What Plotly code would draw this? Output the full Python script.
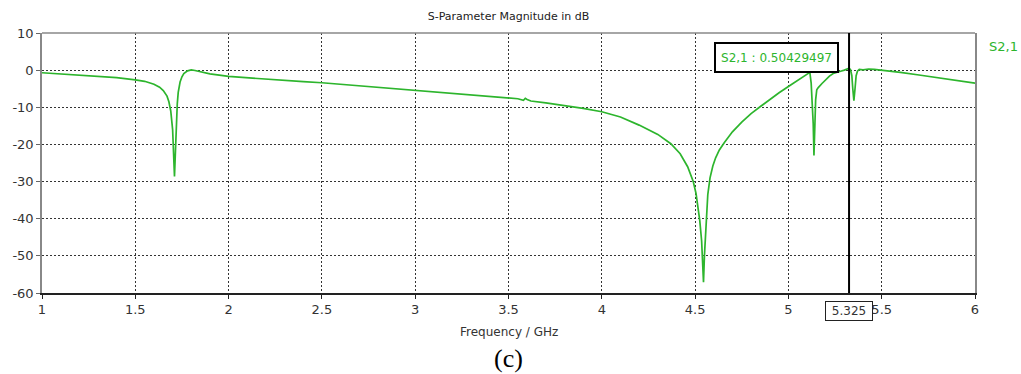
import plotly.graph_objects as go

# ---- data ----
freq_ghz = [
    1.00, 1.10, 1.20, 1.30, 1.40, 1.50, 1.55, 1.60, 1.63, 1.65, 1.67, 1.68, 1.69,
    1.70, 1.705, 1.710, 1.715, 1.720, 1.725, 1.73, 1.74, 1.75, 1.76, 1.78, 1.80,
    1.82, 1.85, 1.90, 2.00, 2.10, 2.20, 2.30, 2.40, 2.50, 2.60, 2.70, 2.80, 2.90,
    3.00, 3.10, 3.20, 3.30, 3.40, 3.50, 3.55, 3.58, 3.59, 3.60, 3.62, 3.70, 3.80,
    3.90, 4.00, 4.10, 4.20, 4.30, 4.37, 4.42, 4.46, 4.49, 4.505, 4.515, 4.525,
    4.535, 4.542, 4.545, 4.550, 4.556, 4.562, 4.568, 4.58, 4.595, 4.61, 4.63, 4.657,
    4.70, 4.75, 4.80, 4.85, 4.90, 4.95, 5.00, 5.05, 5.08, 5.10, 5.115, 5.122,
    5.128, 5.133, 5.137, 5.141, 5.146, 5.152, 5.16, 5.18, 5.20, 5.22, 5.24, 5.26,
    5.28, 5.30, 5.315, 5.325, 5.333, 5.34, 5.345, 5.351, 5.357, 5.363, 5.37, 5.38,
    5.40, 5.43, 5.46, 5.50, 5.60, 5.70, 5.80, 5.90, 6.00,
]
s21_db = [
    -0.7, -1.0, -1.3, -1.6, -2.0, -2.6, -3.0, -3.8, -4.6, -5.5, -7.0, -8.5, -11.0,
    -16.0, -21.0, -28.6, -22.0, -14.0, -9.0, -6.0, -3.2, -1.8, -0.9, -0.2, 0.05,
    -0.1, -0.5, -1.0, -1.7, -2.1, -2.5, -2.8, -3.1, -3.4, -3.8, -4.2, -4.6, -5.0,
    -5.4, -5.8, -6.2, -6.6, -7.0, -7.3, -7.7, -8.1, -7.6, -7.9, -8.3, -8.8, -9.5,
    -10.3, -11.2, -12.6, -14.8, -17.3, -19.8, -22.5, -26.0, -30.0, -33.2, -36.5, -40.5,
    -46.0, -52.0, -57.1, -50.0, -43.0, -37.5, -33.5, -29.0, -25.8, -23.6, -21.5, -19.5,
    -16.6, -14.0, -11.7, -9.8, -7.9, -6.1, -4.4, -2.8, -1.8, -1.0, -0.6, -3.5,
    -8.0, -14.5, -23.0, -14.0, -8.0, -5.3, -4.7, -3.6, -2.6, -1.6, -0.9, -0.5,
    -0.3, 0.0, 0.3, 0.504, 0.1, -1.5, -5.0, -8.2, -5.0, -1.5, -0.3, 0.2,
    0.1, 0.3, 0.2, 0.0, -0.6, -1.3, -2.0, -2.8, -3.5,
]
marker_freq = 5.325
marker_value = 0.50429497
series_name = "S2,1"
x_ticks = [1, 1.5, 2, 2.5, 3, 3.5, 4, 4.5, 5, 5.5, 6]
x_tick_labels = ["1", "1.5", "2", "2.5", "3", "3.5", "4", "4.5", "5", "5.5", "6"]
y_ticks = [10, 0, -10, -20, -30, -40, -50, -60]
y_tick_labels = ["10", "0", "-10", "-20", "-30", "-40", "-50", "-60"]

GREEN = "#2db52d"
FONT = "DejaVu Sans"

fig = go.Figure()
fig.add_trace(go.Scatter(x=freq_ghz, y=s21_db, mode="lines", name=series_name,
                         line=dict(color=GREEN, width=1.7), showlegend=False))

fig.update_layout(
    width=1021, height=374, autosize=False,
    margin=dict(l=38, r=46, t=33, b=80.5),
    paper_bgcolor="white", plot_bgcolor="white",
    title=dict(text="S-Parameter Magnitude in dB", x=0.5, xref="paper",
               y=1 - 16 / 374, yanchor="middle",
               font=dict(family=FONT, size=11, color="#222")),
    xaxis=dict(range=[1, 6], tickvals=x_ticks, ticktext=x_tick_labels,
               showline=True, linecolor="#222", linewidth=1.5, mirror=False,
               ticks="outside", ticklen=4, tickcolor="#222",
               showgrid=True, gridcolor="#333", gridwidth=1, griddash="2px,2px",
               zeroline=False, tickfont=dict(family=FONT, size=13, color="#333")),
    yaxis=dict(range=[-60, 10], tickvals=y_ticks, ticktext=y_tick_labels,
               showline=True, linecolor="#888", linewidth=1.5, mirror=True,
               ticks="outside", ticklen=4, tickcolor="#666",
               showgrid=True, gridcolor="#333", gridwidth=1, griddash="2px,2px",
               zeroline=False, tickfont=dict(family=FONT, size=13, color="#333")),
)

# top frame line
fig.add_shape(type="line", xref="paper", yref="paper", x0=0, x1=1, y0=1, y1=1,
              line=dict(color="#888", width=1.5))
# marker line
fig.add_shape(type="line", xref="x", yref="paper", x0=marker_freq, x1=marker_freq,
              y0=0, y1=1, line=dict(color="black", width=2))

# marker value box
fig.add_annotation(x=4.935, y=3.3, xref="x", yref="y", yanchor="middle",
                   text=f"{series_name} : {marker_value:.8f}", showarrow=False,
                   width=121, height=27, borderpad=0,
                   bordercolor="black", borderwidth=2, bgcolor="white",
                   font=dict(family=FONT, size=12, color=GREEN))
# marker x label box
fig.add_annotation(x=marker_freq, y=0, xref="x", yref="paper", yanchor="top",
                   yshift=-7.5, text=f"{marker_freq:g}", showarrow=False,
                   width=46, height=18, borderpad=0,
                   bordercolor="#222", borderwidth=1, bgcolor="white",
                   font=dict(family=FONT, size=12, color="#333"))
# legend label
fig.add_annotation(x=1, y=0.947, xref="paper", yref="paper", xanchor="left",
                   yanchor="middle", xshift=12, text=series_name, showarrow=False,
                   font=dict(family=FONT, size=13, color=GREEN))
# x axis title
fig.add_annotation(x=0.5, y=0, xref="paper", yref="paper", yanchor="middle",
                   yshift=-38.5, text="Frequency / GHz", showarrow=False,
                   font=dict(family=FONT, size=12, color="#333"))
# caption
fig.add_annotation(x=0.5, y=0, xref="paper", yref="paper", yanchor="middle",
                   yshift=-65, text="(c)", showarrow=False,
                   font=dict(family="Liberation Serif", size=26, color="black"))

fig.write_html("out.html", config={"displayModeBar": False},
               post_script="document.body.style.margin='0';")
